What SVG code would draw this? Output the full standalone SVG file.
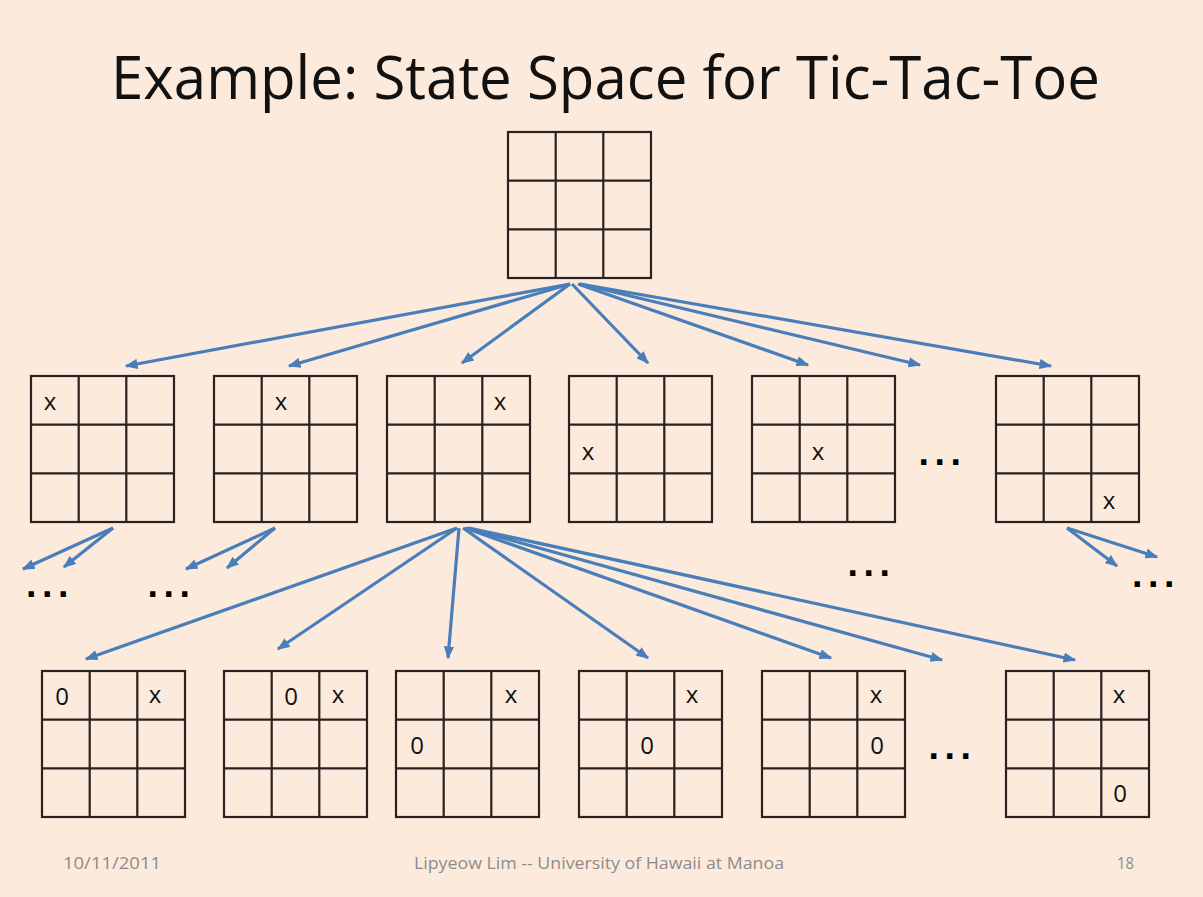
<svg xmlns="http://www.w3.org/2000/svg" xmlns:xlink="http://www.w3.org/1999/xlink" width="1203" height="897" viewBox="0 0 1203 897">
  <style>
    .grid { fill: none; stroke: #2a2220; stroke-width: 2.2; }
    .mark { font-family: "Open Sans", "Liberation Sans", sans-serif; font-size: 24px; fill: #111; text-anchor: middle; }
    .title { font-family: "Open Sans", "Liberation Sans", sans-serif; font-size: 60px; fill: #111; }
    .foot { font-family: "Open Sans", "Liberation Sans", sans-serif; font-size: 16px; fill: #8c8c8c; }
    .dots { font-family: "DejaVu Sans", sans-serif; font-weight: bold; font-size: 30px; fill: #000; letter-spacing: 4.6px; }
    .arr { fill: none; stroke: #4a7ebb; stroke-width: 3.2; marker-end: url(#ah); }
  </style>
  <defs>
    <marker id="ah" viewBox="0 0 10 8" refX="9" refY="4" markerWidth="4" markerHeight="3.2" orient="auto" markerUnits="strokeWidth">
      <path d="M0,0 L10,4 L0,8 z" fill="#4a7ebb"/>
    </marker>
    <g id="board">
      <rect class="grid" x="0" y="0" width="143" height="146"/>
      <path class="grid" d="M47.7,0 V146 M95.3,0 V146 M0,48.7 H143 M0,97.3 H143"/>
    </g>
  </defs>
  <rect x="0" y="0" width="1203" height="897" fill="#fcebdc"/>

  <text class="title" x="111" y="99" textLength="989" lengthAdjust="spacingAndGlyphs">Example: State Space for Tic-Tac-Toe</text>

  <g id="connectors">
    <line class="arr" x1="570" y1="284" x2="126" y2="366"/>
    <line class="arr" x1="570" y1="284" x2="289" y2="366"/>
    <line class="arr" x1="570" y1="284" x2="462" y2="363"/>
    <line class="arr" x1="572" y1="284" x2="648" y2="363"/>
    <line class="arr" x1="578" y1="284" x2="808" y2="365"/>
    <line class="arr" x1="580" y1="284" x2="920" y2="365"/>
    <line class="arr" x1="580" y1="284" x2="1051" y2="366"/>

    <line class="arr" x1="113" y1="528" x2="23" y2="569"/>
    <line class="arr" x1="113" y1="528" x2="64" y2="567"/>
    <line class="arr" x1="275" y1="528" x2="186" y2="569"/>
    <line class="arr" x1="275" y1="528" x2="227" y2="568"/>
    <line class="arr" x1="1067" y1="528" x2="1117" y2="566"/>
    <line class="arr" x1="1067" y1="528" x2="1157" y2="557"/>

    <line class="arr" x1="457" y1="528" x2="86" y2="659"/>
    <line class="arr" x1="457" y1="528" x2="278" y2="649"/>
    <line class="arr" x1="459" y1="528" x2="448" y2="658"/>
    <line class="arr" x1="463" y1="528" x2="648" y2="658"/>
    <line class="arr" x1="465" y1="528" x2="831" y2="658"/>
    <line class="arr" x1="467" y1="528" x2="942" y2="660"/>
    <line class="arr" x1="469" y1="528" x2="1075" y2="660"/>
  </g>

  <g id="root"><use xlink:href="#board" x="508" y="132"/></g>

  <g id="s1"><use xlink:href="#board" x="31" y="376"/><text class="mark" x="50" y="409.5">x</text></g>
  <g id="s2"><use xlink:href="#board" x="214" y="376"/><text class="mark" x="281" y="409.5">x</text></g>
  <g id="s3"><use xlink:href="#board" x="387" y="376"/><text class="mark" x="500" y="409.5">x</text></g>
  <g id="s4"><use xlink:href="#board" x="569" y="376"/><text class="mark" x="588" y="459.5">x</text></g>
  <g id="s5"><use xlink:href="#board" x="752" y="376"/><text class="mark" x="818" y="459.5">x</text></g>
  <g id="s6"><use xlink:href="#board" x="996" y="376"/><text class="mark" x="1109" y="508.5">x</text></g>

  <g id="t1"><use xlink:href="#board" x="42" y="671"/><text class="mark" x="62" y="705">0</text><text class="mark" x="155" y="702.5">x</text></g>
  <g id="t2"><use xlink:href="#board" x="224" y="671"/><text class="mark" x="291" y="705">0</text><text class="mark" x="338" y="702.5">x</text></g>
  <g id="t3"><use xlink:href="#board" x="396" y="671"/><text class="mark" x="511" y="702.5">x</text><text class="mark" x="417" y="753.5">0</text></g>
  <g id="t4"><use xlink:href="#board" x="579" y="671"/><text class="mark" x="692" y="702.5">x</text><text class="mark" x="647" y="753.5">0</text></g>
  <g id="t5"><use xlink:href="#board" x="762" y="671"/><text class="mark" x="876" y="702.5">x</text><text class="mark" x="877" y="753.5">0</text></g>
  <g id="t6"><use xlink:href="#board" x="1006" y="671"/><text class="mark" x="1119" y="702.5">x</text><text class="mark" x="1120" y="801.5">0</text></g>

  <g id="ellipses">
    <text class="dots" x="25.5" y="597">...</text>
    <text class="dots" x="147" y="597">...</text>
    <text class="dots" x="918" y="465">...</text>
    <text class="dots" x="847" y="576">...</text>
    <text class="dots" x="1131.5" y="587">...</text>
    <text class="dots" x="928" y="759">...</text>
  </g>

  <g id="footer">
    <text class="foot" x="63" y="869" textLength="98" lengthAdjust="spacingAndGlyphs">10/11/2011</text>
    <text class="foot" x="414" y="869" textLength="370" lengthAdjust="spacingAndGlyphs">Lipyeow Lim -- University of Hawaii at Manoa</text>
    <text class="foot" x="1117" y="869" textLength="17" lengthAdjust="spacingAndGlyphs">18</text>
  </g>
</svg>
